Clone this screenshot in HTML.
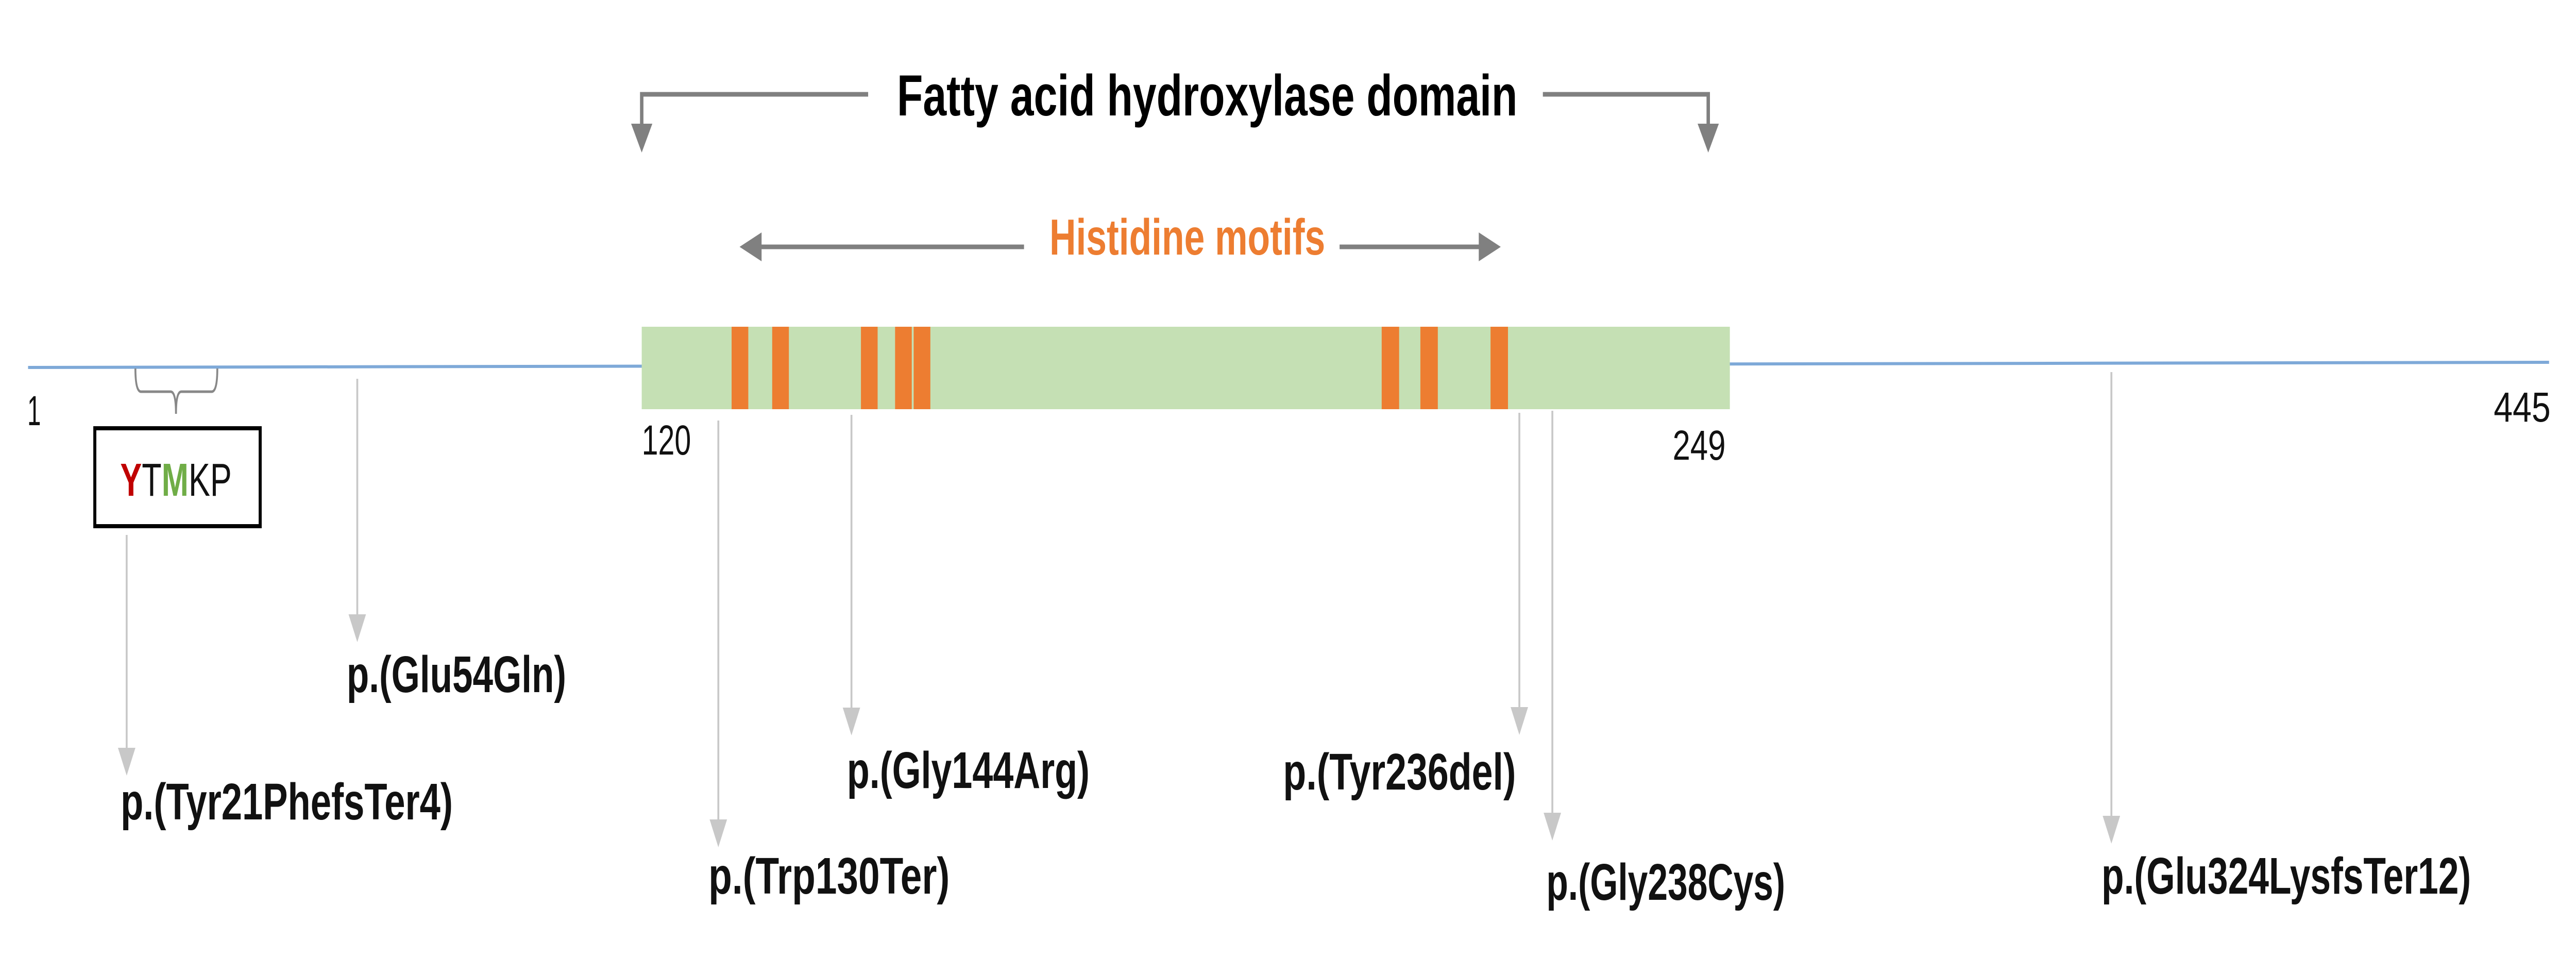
<!DOCTYPE html>
<html><head><meta charset="utf-8"><style>html,body{margin:0;padding:0;background:#fff;overflow:hidden;width:100%;height:100%}svg{display:block;width:100vw;height:100vh}</style></head>
<body>
<svg viewBox="0 0 6792 1888" preserveAspectRatio="none" xmlns="http://www.w3.org/2000/svg">
<!-- backbone -->
<line x1="74" y1="713" x2="6721" y2="703" stroke="#7ea9d8" stroke-width="6"/>
<!-- domain -->
<rect x="1692" y="634" width="2869" height="160" fill="#c5e0b4"/>
<g fill="#ed7d31">
<rect x="1929" y="634" width="44" height="160"/>
<rect x="2036" y="634" width="44" height="160"/>
<rect x="2270" y="634" width="44" height="160"/>
<rect x="2360" y="634" width="44" height="160"/>
<rect x="2409" y="634" width="44" height="160"/>
<rect x="3643" y="634" width="46" height="160"/>
<rect x="3745" y="634" width="46" height="160"/>
<rect x="3930" y="634" width="46" height="160"/>
</g>
<!-- numbers -->
<g font-family="Liberation Sans, sans-serif" font-size="82" fill="#111">
<text x="72" y="825" textLength="36" lengthAdjust="spacingAndGlyphs">1</text>
<text x="1692" y="882" textLength="130" lengthAdjust="spacingAndGlyphs">120</text>
<text x="4410" y="892" textLength="140" lengthAdjust="spacingAndGlyphs">249</text>
<text x="6575" y="818" textLength="150" lengthAdjust="spacingAndGlyphs">445</text>
</g>
<!-- domain bracket arrows -->
<g stroke="#808080" stroke-width="9" fill="none">
<polyline points="2289,183 1692,183 1692,250"/>
<polyline points="4068,183 4504,183 4504,250"/>
<line x1="2700" y1="479" x2="2000" y2="479"/>
<line x1="3532" y1="479" x2="3910" y2="479"/>
</g>
<g fill="#808080">
<polygon points="1664,240 1720,240 1692,296"/>
<polygon points="4476,240 4532,240 4504,296"/>
<polygon points="1950,479 2008,451 2008,507"/>
<polygon points="3957,479 3899,451 3899,507"/>
</g>
<text x="2365" y="224" font-family="Liberation Sans, sans-serif" font-weight="bold" font-size="112" fill="#000" textLength="1636" lengthAdjust="spacingAndGlyphs">Fatty acid hydroxylase domain</text>
<text x="2767" y="494" font-family="Liberation Sans, sans-serif" font-weight="bold" font-size="98" fill="#ed7d31" textLength="727" lengthAdjust="spacingAndGlyphs">Histidine motifs</text>
<!-- YTMKP bracket and box -->
<path d="M357,715 Q357,760 372,760 L450,760 Q464,760 464,803 Q464,760 478,760 L558,760 Q573,760 573,715" stroke="#888" stroke-width="5" fill="none"/>
<rect x="250" y="831" width="436" height="190" fill="#fff" stroke="#000" stroke-width="8"/>
<text x="317" y="962" font-family="Liberation Sans, sans-serif" font-size="90" textLength="294" lengthAdjust="spacingAndGlyphs"><tspan fill="#c00000" font-weight="bold">Y</tspan><tspan fill="#111">T</tspan><tspan fill="#70ad47" font-weight="bold">M</tspan><tspan fill="#111">KP</tspan></text>
<!-- mutation arrows -->
<g stroke="#c8c8c8" stroke-width="5">
<line x1="334" y1="1038" x2="334" y2="1460"/>
<line x1="942" y1="735" x2="942" y2="1200"/>
<line x1="1894" y1="816" x2="1894" y2="1600"/>
<line x1="2245" y1="805" x2="2245" y2="1380"/>
<line x1="4006" y1="801" x2="4006" y2="1380"/>
<line x1="4093" y1="797" x2="4093" y2="1585"/>
<line x1="5567" y1="722" x2="5567" y2="1590"/>
</g>
<g fill="#c8c8c8">
<polygon points="311,1451 357,1451 334,1505"/>
<polygon points="919,1192 965,1192 942,1246"/>
<polygon points="1871,1590 1917,1590 1894,1644"/>
<polygon points="2222,1373 2268,1373 2245,1427"/>
<polygon points="3983,1372 4029,1372 4006,1426"/>
<polygon points="4070,1577 4116,1577 4093,1631"/>
<polygon points="5544,1583 5590,1583 5567,1637"/>
</g>
<g font-family="Liberation Sans, sans-serif" font-weight="bold" font-size="100" fill="#111">
<text x="318" y="1590" textLength="876" lengthAdjust="spacingAndGlyphs">p.(Tyr21PhefsTer4)</text>
<text x="914" y="1343" textLength="579" lengthAdjust="spacingAndGlyphs">p.(Glu54Gln)</text>
<text x="1868" y="1734" textLength="636" lengthAdjust="spacingAndGlyphs">p.(Trp130Ter)</text>
<text x="2233" y="1529" textLength="640" lengthAdjust="spacingAndGlyphs">p.(Gly144Arg)</text>
<text x="3383" y="1532" textLength="614" lengthAdjust="spacingAndGlyphs">p.(Tyr236del)</text>
<text x="4077" y="1746" textLength="630" lengthAdjust="spacingAndGlyphs">p.(Gly238Cys)</text>
<text x="5541" y="1734" textLength="974" lengthAdjust="spacingAndGlyphs">p.(Glu324LysfsTer12)</text>
</g>
</svg>
</body></html>
